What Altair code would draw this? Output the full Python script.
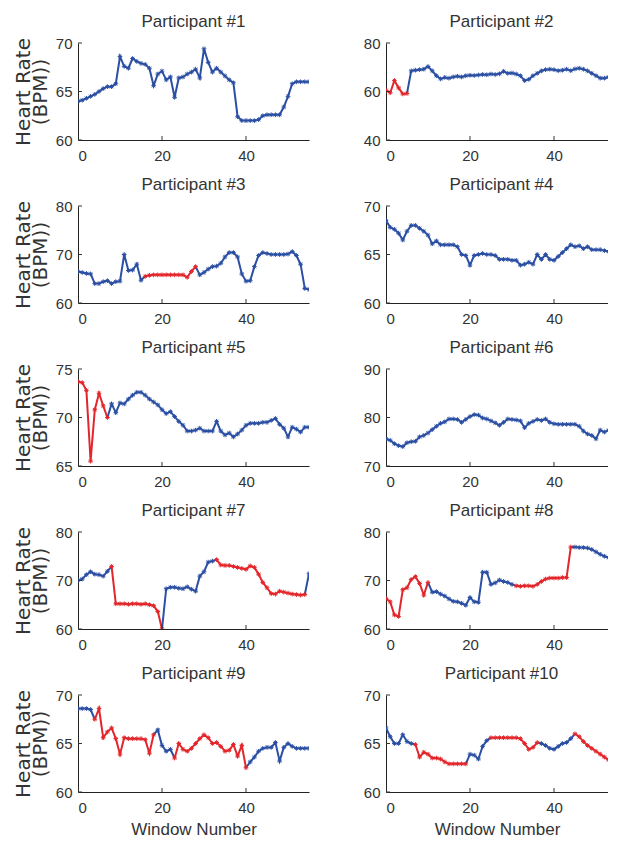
import altair as alt
import pandas as pd

BLUE = "#2b4fa3"
RED = "#e3262b"
FONT = "Liberation Sans"

windows = list(range(56))
titles = [f"Participant #{i}" for i in range(1, 11)]

hr_p1 = [64.0, 64.1, 64.3, 64.5, 64.7, 65.0, 65.3, 65.5, 65.5, 65.8,
         68.6, 67.6, 67.4, 68.4, 68.1, 67.9, 67.8, 67.4, 65.6, 66.8,
         67.1, 66.2, 66.5, 64.4, 66.4, 66.5, 66.8, 67.0, 67.3, 66.4,
         69.4, 68.0, 67.0, 67.4, 67.0, 66.6, 66.2, 65.9, 62.4, 62.0,
         62.0, 62.0, 62.0, 62.1, 62.5, 62.6, 62.6, 62.6, 62.6, 63.4,
         64.5, 65.8, 66.0, 66.0, 66.0, 66.0]
hr_p2 = [60.5, 59.5, 64.5, 61.5, 59.0, 59.2, 68.5, 68.8, 69.0, 69.2,
         70.3, 68.5, 66.5, 65.2, 65.8, 65.5, 66.0, 66.3, 66.0, 66.5,
         66.7, 66.6, 66.8, 67.0, 66.9, 67.2, 67.0, 67.3, 68.3, 67.5,
         67.6, 67.2, 66.5, 64.5, 65.0, 66.5, 67.5, 68.5, 69.0, 69.2,
         69.0, 68.6, 68.8, 69.2, 68.6, 69.3, 69.6, 69.2, 68.5, 67.5,
         66.5, 65.5, 65.5, 66.0, 65.8, 66.5]
hr_p3 = [66.5, 66.3, 66.1, 66.0, 64.0, 64.0, 64.4, 64.6, 64.0, 64.4,
         64.5, 70.0, 66.7, 66.8, 68.0, 64.7, 65.5, 65.7, 65.8, 65.8,
         65.8, 65.8, 65.8, 65.8, 65.8, 65.8, 65.3, 66.5, 67.5, 65.8,
         66.3, 67.0, 67.5, 67.6, 68.2, 69.5, 70.4, 70.4, 69.5, 66.0,
         64.5, 64.6, 67.5, 69.8, 70.4, 70.2, 70.0, 70.0, 70.0, 70.0,
         70.1, 70.6, 69.8, 68.0, 63.0, 62.8]
hr_p4 = [68.5, 67.8, 67.6, 67.2, 66.5, 67.4, 68.0, 68.0, 67.7, 67.4,
         67.0, 66.1, 66.4, 66.0, 66.0, 66.0, 66.0, 65.8, 65.0, 64.9,
         63.9, 64.9, 65.0, 65.1, 65.0, 65.0, 64.9, 64.5, 64.5, 64.5,
         64.4, 64.4, 63.9, 64.0, 64.2, 64.0, 65.0, 64.5, 65.0, 64.5,
         64.4, 64.8, 65.2, 65.6, 66.0, 65.8, 65.9, 65.6, 65.8, 65.5,
         65.5, 65.5, 65.4, 65.3, 65.2, 64.8]
hr_p5 = [73.7, 73.6, 72.8, 65.5, 70.8, 72.5, 71.2, 70.0, 71.4, 70.5,
         71.5, 71.4, 71.9, 72.3, 72.6, 72.6, 72.3, 71.9, 71.6, 71.3,
         70.8, 70.4, 70.6, 70.1, 69.6, 69.2, 68.6, 68.6, 68.7, 68.9,
         68.6, 68.6, 68.6, 69.6, 68.6, 68.2, 68.4, 68.0, 68.3, 68.7,
         69.2, 69.4, 69.4, 69.4, 69.5, 69.5, 69.7, 69.9, 69.3, 68.9,
         68.0, 69.0, 68.8, 68.5, 69.0, 69.0]
hr_p6 = [75.6, 75.3, 74.6, 74.2, 74.0, 74.8, 75.0, 75.1, 76.0, 76.3,
         76.8, 77.5, 78.2, 78.8, 79.1, 79.7, 79.7, 79.6, 79.0, 79.6,
         80.2, 80.6, 80.5, 79.9, 79.7, 79.3, 78.9, 78.4, 79.0, 79.7,
         79.6, 79.5, 79.3, 77.9, 78.8, 79.2, 79.6, 79.4, 79.7, 79.0,
         78.7, 78.6, 78.6, 78.6, 78.6, 78.6, 78.2, 77.2, 76.6, 76.3,
         75.6, 77.4, 77.0, 77.4, 77.9, 78.2]
hr_p7 = [70.0, 70.3, 71.2, 71.8, 71.3, 71.2, 70.9, 71.9, 72.9, 65.2,
         65.2, 65.2, 65.1, 65.2, 65.2, 65.1, 65.2, 65.0, 64.8, 63.6,
         60.0, 68.3, 68.6, 68.6, 68.4, 68.3, 68.7, 68.2, 67.8, 70.9,
         71.8, 73.8, 74.0, 74.3, 73.2, 73.1, 73.1, 72.9, 72.7, 72.5,
         72.3, 73.0, 72.7, 71.3, 69.6, 68.5, 67.3, 67.2, 67.8, 67.6,
         67.4, 67.2, 67.1, 67.0, 67.1, 71.4]
hr_p8 = [66.3, 65.6, 62.9, 62.6, 68.1, 68.5, 70.2, 70.8, 69.4, 67.0,
         69.6, 67.6, 67.7, 67.2, 66.8, 66.2, 65.7, 65.6, 65.3, 64.9,
         66.5, 65.6, 65.5, 71.7, 71.7, 69.2, 69.5, 70.1, 69.8, 69.6,
         69.2, 68.9, 68.8, 68.9, 68.9, 68.8, 69.2, 69.8, 70.3, 70.5,
         70.5, 70.5, 70.6, 70.6, 76.9, 76.9, 76.8, 76.8, 76.7, 76.4,
         75.9, 75.4, 75.0, 74.7, 74.3, 74.2]
hr_p9 = [68.6, 68.6, 68.6, 68.5, 67.5, 68.6, 65.6, 66.2, 66.6, 65.5,
         63.9, 65.6, 65.5, 65.5, 65.5, 65.5, 65.4, 64.0, 65.9, 66.4,
         64.8, 64.2, 64.4, 63.5, 65.0, 64.4, 64.2, 64.5, 65.0, 65.5,
         65.9, 65.6, 65.0, 65.1, 64.7, 64.2, 64.3, 64.9, 63.7, 64.8,
         62.5, 63.1, 63.6, 64.2, 64.5, 64.6, 64.6, 65.1, 63.2, 64.6,
         65.0, 64.7, 64.5, 64.5, 64.5, 64.5]
hr_p10 = [66.6, 65.7, 65.0, 65.0, 65.9, 65.2, 65.0, 64.9, 63.6, 64.1,
          63.9, 63.5, 63.5, 63.4, 63.1, 62.9, 62.9, 62.9, 62.9, 62.9,
          63.9, 63.8, 63.4, 64.7, 65.3, 65.6, 65.6, 65.6, 65.6, 65.6,
          65.6, 65.6, 65.5, 65.0, 64.4, 64.6, 65.1, 65.0, 64.8, 64.5,
          64.4, 64.7, 65.0, 65.1, 65.5, 66.0, 65.7, 65.2, 64.8, 64.5,
          64.2, 63.9, 63.6, 63.3, 63.0, 62.8]

red_p1 = []
red_p2 = [(0, 5)]
red_p3 = [(16, 28)]
red_p4 = []
red_p5 = [(0, 7)]
red_p6 = []
red_p7 = [(8, 20), (33, 54)]
red_p8 = [(0, 10), (31, 44)]
red_p9 = [(4, 18), (23, 40)]
red_p10 = [(7, 19), (25, 36), (45, 55)]

series = [hr_p1, hr_p2, hr_p3, hr_p4, hr_p5, hr_p6, hr_p7, hr_p8, hr_p9, hr_p10]
reds_all = [red_p1, red_p2, red_p3, red_p4, red_p5, red_p6, red_p7, red_p8, red_p9, red_p10]

y_domains = [[60, 70], [40, 80], [60, 80], [60, 70], [65, 75],
             [70, 90], [60, 80], [60, 80], [60, 70], [60, 70]]
y_ticks = [[60, 65, 70], [40, 60, 80], [60, 70, 80], [60, 65, 70], [65, 70, 75],
           [70, 80, 90], [60, 70, 80], [60, 70, 80], [60, 65, 70], [60, 65, 70]]
x_ticks = [0, 20, 40]
# left column shows the full 0-55 range; right column is cropped by the page edge
x_domain_left = [0, 55]
x_domain_right = [0, 52.86]

W_LEFT, W_RIGHT, H = 231, 222, 97
STAR = "M-1,0L1,0M0,-1L0,1M-0.7,-0.7L0.7,0.7M-0.7,0.7L0.7,-0.7"


def segments(n, reds):
    segs, cur = [], 0
    for a, b in reds:
        if a > cur:
            segs.append((cur, a, BLUE))
        segs.append((a, b, RED))
        cur = b
    if cur < n - 1:
        segs.append((cur, n - 1, BLUE))
    return segs


def panel(idx):
    vals = series[idx]
    reds = reds_all[idx]
    rows = []
    for k, (a, b, col) in enumerate(segments(len(vals), reds)):
        for i in range(a, b + 1):
            rows.append({"x": windows[i], "y": vals[i], "seg": k, "c": col})
    ldf = pd.DataFrame(rows)
    prow = []
    for i, v in enumerate(vals):
        col = RED if any(a <= i <= b for a, b in reds) else BLUE
        prow.append({"x": windows[i], "y": v, "c": col})
    pdf = pd.DataFrame(prow)

    left = idx % 2 == 0
    bottom = idx >= 8
    width = W_LEFT if left else W_RIGHT
    xs = alt.Scale(domain=x_domain_left if left else x_domain_right, nice=False, zero=False)
    ys = alt.Scale(domain=y_domains[idx], nice=False, zero=False)
    xax = alt.Axis(values=x_ticks, title="Window Number" if bottom else "")
    yax = alt.Axis(values=y_ticks[idx], title=["Heart Rate", "(BPM))"] if left else "")
    xenc = alt.X("x:Q", scale=xs, axis=xax)
    yenc = alt.Y("y:Q", scale=ys, axis=yax)

    line = alt.Chart(ldf).mark_line(strokeWidth=2, clip=True).encode(
        x=xenc, y=yenc, detail="seg:N", color=alt.Color("c:N", scale=None))
    pts = alt.Chart(pdf).mark_point(shape=STAR, size=22, strokeWidth=1, filled=False, opacity=1, clip=True).encode(
        x=xenc, y=yenc, color=alt.Color("c:N", scale=None))
    xt = alt.Chart(pd.DataFrame({"x": x_ticks})).mark_rule(color="#333", strokeWidth=1, clip=True).encode(
        x=xenc, y=alt.value(H), y2=alt.value(H - 4))
    yt = alt.Chart(pd.DataFrame({"y": y_ticks[idx]})).mark_rule(color="#333", strokeWidth=1).encode(
        y=yenc, x=alt.value(0), x2=alt.value(4))
    ttl = alt.Chart(pd.DataFrame({"t": [titles[idx]]})).mark_text(
        font=FONT, fontSize=17, color="#333", align="center", baseline="alphabetic"
    ).encode(text="t:N", x=alt.value(115.5), y=alt.value(-16))
    return alt.layer(line, pts, xt, yt, ttl).properties(width=width, height=H)


panels = [panel(i) for i in range(10)]

chart = alt.concat(*panels, columns=2, bounds="flush",
                   spacing={"row": 66, "column": 77}).properties(
    padding={"left": 5, "top": 5, "right": 0, "bottom": 0}
).configure_view(
    stroke=None
).configure_axis(
    grid=False, domainColor="#222", domainWidth=1, tickSize=0,
    labelFont=FONT, labelFontSize=15, labelColor="#333",
    titleFont=FONT, titleFontSize=17, titleFontWeight="normal", titleColor="#333",
).configure_axisX(
    labelPadding=8, titlePadding=6
).configure_axisY(
    labelPadding=6,
    titleFont="DejaVu Sans", titleFontSize=20, titleLineHeight=17, titlePadding=5
)

chart.save("out.html", embed_options={"renderer": "svg", "actions": False})
